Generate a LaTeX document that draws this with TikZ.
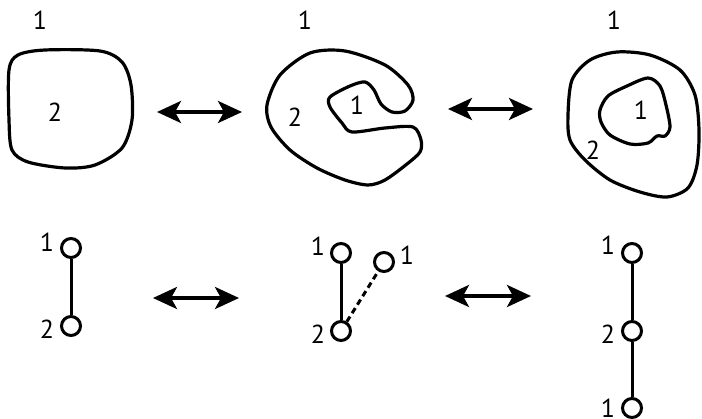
\documentclass[tikz,border=0pt]{standalone}
\usepackage{fontspec}
\setmainfont{PT Sans}
\usetikzlibrary{arrows.meta}
\newcommand\lblsize{\fontsize{26}{28}\selectfont}
\begin{document}
\begin{tikzpicture}[x=1pt,y=-1pt,
  outline/.style={line width=3.2pt, line join=round},
  dblarrow/.style={line width=3.5pt, {Stealth[length=24pt,width=22pt,inset=6pt]}-{Stealth[length=24pt,width=22pt,inset=6pt]}},
  vert/.style={circle, draw, line width=3pt, minimum size=19pt, inner sep=0pt},
  edge/.style={line width=3pt},
  lbl/.style={font=\lblsize, inner sep=0pt}]
\useasboundingbox (0,0) rectangle (702,419);

% shape 1
\draw[outline] plot[smooth cycle] coordinates {(9,70) (18,55) (45,50) (100,51) (122,62) (131,85) (132,120) (122,148) (95,165) (65,168) (28,162) (12,150) (9,120)};
\node[lbl] (s1a) at (40,20) {\lblsize 1};
\node[lbl] (s1b) at (55,112) {\lblsize 2};

% shape 2
\draw[outline] plot[smooth cycle, tension=0.5] coordinates {(368,185) (345,180) (317,168) (290,150) (271,127) (267,105) (280,75) (310,53) (345,51) (385,65) (408,85) (413,100) (405,111) (392,112) (381,104) (374,90) (365,82) (350,86) (330,97) (330,107) (342,123) (352,132) (385,128) (413,127) (421,140) (420,152) (407,164) (385,180)};
\node[lbl] (s2a) at (305,20) {\lblsize 1};
\node[lbl] (s2b) at (295,117) {\lblsize 2};
\node[lbl] (s2c) at (357,105) {\lblsize 1};

% shape 3
\draw[outline] plot[smooth cycle] coordinates {(568,115) (572,80) (590,60) (617,52) (650,55) (680,70) (695,95) (699,130) (697,165) (688,188) (667,197) (640,192) (610,180) (585,160) (570,140)};
\draw[outline] plot[smooth cycle, tension=0.5] coordinates {(600,110) (608,96) (627,86) (648,78) (660,86) (666,105) (670,127) (665,136) (657,136) (648,143) (630,144) (610,135) (601,122)};
\node[lbl] (s3a) at (614,20) {\lblsize 1};
\node[lbl] (s3b) at (593,150) {\lblsize 2};
\node[lbl] (s3c) at (641,110) {\lblsize 1};

% top arrows
\coordinate (a1l) at (157,112);
\coordinate (a1r) at (242,112);
\draw[dblarrow] (a1l) -- (a1r);
\coordinate (a2l) at (448,109);
\coordinate (a2r) at (533,109);
\draw[dblarrow] (a2l) -- (a2r);

% graph 1
\node[vert] (g1a) at (71,248) {};
\node[vert] (g1b) at (71,326) {};
\draw[edge] (g1a) -- (g1b);
\node[lbl] (g1la) at (47,242) {\lblsize 1};
\node[lbl] (g1lb) at (47,329) {\lblsize 2};

% graph 2
\node[vert] (g2a) at (341,253) {};
\node[vert] (g2b) at (341,331) {};
\node[vert] (g2c) at (384,262) {};
\draw[edge] (g2a) -- (g2b);
\draw[edge, dash pattern=on 6pt off 4pt] (g2b) -- (g2c);
\node[lbl] (g2la) at (318,246) {\lblsize 1};
\node[lbl] (g2lb) at (318,334) {\lblsize 2};
\node[lbl] (g2lc) at (407,255) {\lblsize 1};

% bottom arrows
\coordinate (a3l) at (153,298);
\coordinate (a3r) at (239,298);
\draw[dblarrow] (a3l) -- (a3r);
\coordinate (a4l) at (445,296);
\coordinate (a4r) at (531,296);
\draw[dblarrow] (a4l) -- (a4r);

% graph 3
\node[vert] (g3a) at (632,253) {};
\node[vert] (g3b) at (632,331) {};
\node[vert] (g3c) at (632,408) {};
\draw[edge] (g3a) -- (g3b);
\draw[edge] (g3b) -- (g3c);
\node[lbl] (g3la) at (608,245) {\lblsize 1};
\node[lbl] (g3lb) at (608,334) {\lblsize 2};
\node[lbl] (g3lc) at (608,408) {\lblsize 1};
\end{tikzpicture}
\end{document}
